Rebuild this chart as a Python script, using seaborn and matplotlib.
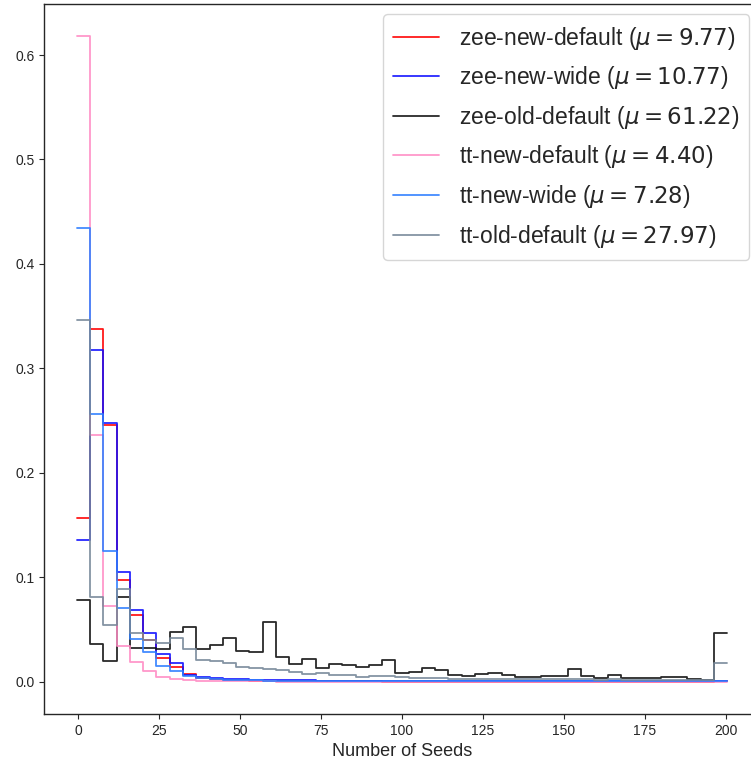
import numpy as np
import pandas as pd
import matplotlib
matplotlib.use("Agg")
import matplotlib.pyplot as plt
import seaborn as sns

# ---- data (per-bin fraction of runs) ----
bin_low, bin_high, bin_width = -0.5, 200.5, 201.0 / 49   # 49 bins

zee_new_default = [0.157, 0.338, 0.246, 0.097, 0.0635, 0.040, 0.0227, 0.0137, 0.0074, 0.0040,
                   0.0030, 0.0020, 0.0015, 0.0011, 0.0009, 0.0007, 0.0005, 0.0004, 0.0003, 0.0003,
                   0.0002, 0.0002, 0.0002, 0.0001, 0.0001, 0.0001, 0.0001, 0.0001, 0.0001, 0.0001,
                   0.0001, 0.0001, 0.0001, 0.0001, 0.0001, 0.0001, 0.0001, 0.0001, 0.0001, 0.0001,
                   0.0001, 0.0001, 0.0001, 0.0001, 0.0001, 0.0001, 0.0001, 0.0001, 0.0002]
zee_new_wide = [0.136, 0.318, 0.248, 0.1046, 0.069, 0.0466, 0.0265, 0.018, 0.0067, 0.0041,
                0.0035, 0.0030, 0.0025, 0.0020, 0.0018, 0.0015, 0.0013, 0.0016, 0.0009, 0.0008,
                0.0007, 0.0006, 0.0006, 0.0005, 0.0005, 0.0004, 0.0004, 0.0004, 0.0003, 0.0003,
                0.0003, 0.0003, 0.0002, 0.0002, 0.0002, 0.0002, 0.0002, 0.0002, 0.0002, 0.0002,
                0.0002, 0.0002, 0.0002, 0.0002, 0.0002, 0.0002, 0.0002, 0.0002, 0.0003]
zee_old_default = [0.078, 0.036, 0.020, 0.081, 0.032, 0.032, 0.031, 0.048, 0.052, 0.031,
                   0.035, 0.042, 0.029, 0.028, 0.057, 0.024, 0.017, 0.022, 0.013, 0.017,
                   0.016, 0.014, 0.016, 0.021, 0.0083, 0.0093, 0.0127, 0.0112, 0.0064, 0.0057,
                   0.0077, 0.0087, 0.0060, 0.0041, 0.0041, 0.0051, 0.0051, 0.0124, 0.0051, 0.0038,
                   0.0067, 0.0038, 0.0035, 0.0035, 0.0048, 0.0041, 0.0029, 0.0016, 0.0466]
tt_new_default = [0.618, 0.236, 0.072, 0.034, 0.0190, 0.0099, 0.0045, 0.0026, 0.0013, 0.0008,
                  0.0005, 0.0004, 0.0003, 0.0002, 0.0002, 0.0001, 0.0001, 0.0001, 0.0001, 0.0001,
                  0.0001, 0.0001, 0.0001, 0.0001, 0.0001, 0.0001, 0.0001, 0.0001, 0.0001, 0.0001,
                  0.0001, 0.0001, 0.0001, 0.0001, 0.0001, 0.0001, 0.0001, 0.0001, 0.0001, 0.0001,
                  0.0001, 0.0001, 0.0001, 0.0001, 0.0001, 0.0001, 0.0001, 0.0001, 0.0001]
tt_new_wide = [0.434, 0.256, 0.125, 0.071, 0.041, 0.028, 0.0153, 0.0099, 0.0051, 0.0035,
               0.0025, 0.0020, 0.0015, 0.0012, 0.0010, 0.0009, 0.0008, 0.0007, 0.0006, 0.0005,
               0.0005, 0.0004, 0.0004, 0.0004, 0.0003, 0.0003, 0.0003, 0.0003, 0.0003, 0.0003,
               0.0002, 0.0002, 0.0002, 0.0002, 0.0002, 0.0002, 0.0002, 0.0002, 0.0002, 0.0002,
               0.0002, 0.0002, 0.0002, 0.0002, 0.0002, 0.0002, 0.0002, 0.0002, 0.0002]
tt_old_default = [0.346, 0.081, 0.0545, 0.0887, 0.0466, 0.040, 0.037, 0.042, 0.031, 0.021,
                  0.0195, 0.018, 0.014, 0.0131, 0.0121, 0.0108, 0.0089, 0.0077, 0.0080, 0.0067,
                  0.0064, 0.0048, 0.0050, 0.0050, 0.0041, 0.0040, 0.0040, 0.0040, 0.0030, 0.0030,
                  0.0030, 0.0030, 0.0025, 0.0022, 0.0022, 0.0022, 0.0022, 0.0030, 0.0022, 0.0020,
                  0.0022, 0.0020, 0.0020, 0.0020, 0.0020, 0.0020, 0.0018, 0.0015, 0.0180]

series_names = ["zee-new-default", "zee-new-wide", "zee-old-default",
                "tt-new-default", "tt-new-wide", "tt-old-default"]
series_means = [9.77, 10.77, 61.22, 4.40, 7.28, 27.97]
series_values = [zee_new_default, zee_new_wide, zee_old_default,
                 tt_new_default, tt_new_wide, tt_old_default]
series_colors = ["#ff0000", "#1010ff", "#111111", "#ff8cc4", "#2f7fff", "#778899"]

# ---- plot ----
sns.set_style("ticks")
plt.rcParams["font.family"] = ["Liberation Sans", "DejaVu Sans"]
plt.rcParams["axes.linewidth"] = 1.0

fig = plt.figure(figsize=(7.51, 7.61), dpi=100)
ax = fig.add_axes([0.059, 0.0618, 0.9526, 0.933])

n_bins = len(zee_new_default)
centers = bin_low + bin_width * (np.arange(n_bins) + 0.5)
for name, mu, vals, col in zip(series_names, series_means, series_values, series_colors):
    df = pd.DataFrame({"seeds": centers, "frac": np.asarray(vals, dtype=float)})
    sns.histplot(data=df, x="seeds", weights="frac", binwidth=bin_width,
                 binrange=(bin_low, bin_high), stat="count",
                 element="step", fill=False, color=col, linewidth=1.3, alpha=0.9,
                 label=rf"{name} ($\mu = {mu:.2f}$)", ax=ax)

ax.set_xlim(-10.55, 210.55)
ax.set_ylim(-0.0309, 0.6489)
ax.set_xticks([0, 25, 50, 75, 100, 125, 150, 175, 200])
ax.set_yticks([0.0, 0.1, 0.2, 0.3, 0.4, 0.5, 0.6])
ax.tick_params(labelsize=10)
ax.set_xlabel("Number of Seeds", fontsize=13)
ax.set_ylabel("")
for s in ax.spines.values():
    s.set_visible(True)
ax.legend(loc="upper right", fontsize=16.5, borderpad=0.45, labelspacing=0.55,
          handlelength=2.0, handletextpad=0.85, borderaxespad=0.45)

fig.savefig("out.png", dpi=100)
